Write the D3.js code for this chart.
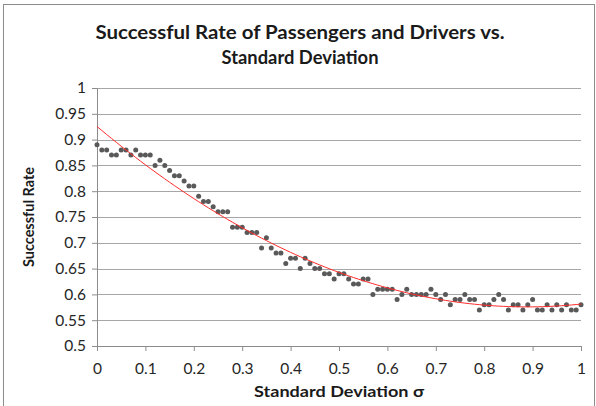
<!DOCTYPE html>
<html>
<head>
<meta charset="utf-8">
<script src="https://cdn.jsdelivr.net/npm/d3@7"></script>
<style>
  body { margin: 0; background: #fff; }
  svg { display: block; font-family: Lato, "Open Sans", sans-serif; }
</style>
</head>
<body>
<svg id="chart" width="596" height="406"></svg>
<script>
// Standard deviation steps 0, 0.01, ... 1
const sigma = d3.range(0, 101).map(i => i / 100);
// Successful rate, one per sigma step
const rate = [
  0.89, 0.88, 0.88, 0.87, 0.87, 0.88, 0.88, 0.87, 0.88, 0.87,
  0.87, 0.87, 0.85, 0.86, 0.85, 0.84, 0.83, 0.83, 0.82, 0.81,
  0.81, 0.79, 0.78, 0.78, 0.77, 0.76, 0.76, 0.76, 0.73, 0.73,
  0.73, 0.72, 0.72, 0.72, 0.69, 0.71, 0.69, 0.68, 0.68, 0.66,
  0.67, 0.67, 0.65, 0.67, 0.66, 0.65, 0.65, 0.64, 0.64, 0.63,
  0.64, 0.64, 0.63, 0.62, 0.62, 0.63, 0.63, 0.60, 0.61, 0.61,
  0.61, 0.61, 0.59, 0.60, 0.61, 0.60, 0.60, 0.60, 0.60, 0.61,
  0.60, 0.59, 0.60, 0.58, 0.59, 0.59, 0.60, 0.59, 0.59, 0.57,
  0.58, 0.58, 0.59, 0.60, 0.59, 0.57, 0.58, 0.58, 0.57, 0.58,
  0.59, 0.57, 0.57, 0.58, 0.57, 0.58, 0.57, 0.58, 0.57, 0.57,
  0.58
];
const xTicks = [0, 0.1, 0.2, 0.3, 0.4, 0.5, 0.6, 0.7, 0.8, 0.9, 1];
const yTicks = [0.5, 0.55, 0.6, 0.65, 0.7, 0.75, 0.8, 0.85, 0.9, 0.95, 1];
const titleLines = ['Successful Rate of Passengers and Drivers vs.', 'Standard Deviation'];
const trendOrder = 2;

const margin = { top: 88, right: 15, bottom: 60, left: 97 };
const svg = d3.select('#chart');
const width = 581 - margin.left;
const height = 346 - margin.top;

// outer frame
svg.append('rect')
  .attr('x', 3.5).attr('y', 4.5)
  .attr('width', 591).attr('height', 410)
  .attr('fill', 'none').attr('stroke', '#8c8c8c');

const chart = svg.append('g')
  .attr('transform', `translate(${margin.left},${margin.top})`);

const xScale = d3.scaleLinear().domain([0, 1]).range([0, width]);
const yScale = d3.scaleLinear().domain([0.5, 1]).range([height, 0]);

// gridlines
chart.selectAll('.grid')
  .data(yTicks.filter(d => d > 0.5))
  .join('line')
    .attr('class', 'grid')
    .attr('x1', 0).attr('x2', width)
    .attr('y1', d => Math.round(yScale(d)) + 0.5)
    .attr('y2', d => Math.round(yScale(d)) + 0.5)
    .attr('stroke', '#a6a6a6');

// axes
const xAxis = d3.axisBottom(xScale).tickValues(xTicks).tickSize(5).tickPadding(12)
  .tickFormat(d => d3.format('~g')(d));
const yAxis = d3.axisLeft(yScale).tickValues(yTicks).tickSize(5).tickPadding(6)
  .tickFormat(d => d3.format('~g')(d));

const xAxisG = chart.append('g')
  .attr('transform', `translate(0,${height})`)
  .call(xAxis);
const yAxisG = chart.append('g').call(yAxis);

[xAxisG, yAxisG].forEach(g => {
  g.select('.domain').attr('stroke', '#8c8c8c');
  g.selectAll('.tick line').attr('stroke', '#8c8c8c');
  g.selectAll('.tick text')
    .attr('fill', '#262626')
    .attr('font-size', '15.5px')
    .attr('font-family', 'Lato, sans-serif');
});

// polynomial least squares trendline fitted to the points
function polyFit(xs, ys, order) {
  const n = order + 1;
  const A = d3.range(n).map(() => new Array(n + 1).fill(0));
  xs.forEach((x, k) => {
    for (let i = 0; i < n; i++) {
      for (let j = 0; j < n; j++) A[i][j] += Math.pow(x, i + j);
      A[i][n] += ys[k] * Math.pow(x, i);
    }
  });
  for (let i = 0; i < n; i++) {
    let p = i;
    for (let r = i + 1; r < n; r++) if (Math.abs(A[r][i]) > Math.abs(A[p][i])) p = r;
    [A[i], A[p]] = [A[p], A[i]];
    for (let r = 0; r < n; r++) {
      if (r === i) continue;
      const f = A[r][i] / A[i][i];
      for (let c = i; c <= n; c++) A[r][c] -= f * A[i][c];
    }
  }
  return d3.range(n).map(i => A[i][n] / A[i][i]);
}
const coef = polyFit(sigma, rate, trendOrder);
const trend = x => coef.reduce((s, c, i) => s + c * Math.pow(x, i), 0);

const points = sigma.map((s, i) => ({ x: s, y: rate[i] }));

chart.selectAll('.dot')
  .data(points)
  .join('circle')
    .attr('class', 'dot')
    .attr('cx', d => xScale(d.x))
    .attr('cy', d => yScale(d.y))
    .attr('r', 2.5)
    .attr('fill', '#595959');

const line = d3.line()
  .x(d => xScale(d))
  .y(d => yScale(trend(d)));
chart.append('path')
  .datum(sigma)
  .attr('d', line)
  .attr('fill', 'none')
  .attr('stroke', '#ff2a2a')
  .attr('stroke-width', 1);

// titles
const titleWidths = [409, 157];
svg.selectAll('.title')
  .data(titleLines)
  .join('text')
    .attr('class', 'title')
    .attr('x', 300)
    .attr('y', (d, i) => 39 + i * 25)
    .attr('text-anchor', 'middle')
    .attr('font-weight', 'bold')
    .attr('font-size', '19px')
    .attr('fill', '#1a1a1a')
    .attr('textLength', (d, i) => titleWidths[i])
    .attr('lengthAdjust', 'spacingAndGlyphs')
    .text(d => d);

svg.append('text')
  .attr('x', margin.left + width / 2)
  .attr('y', 397)
  .attr('text-anchor', 'middle')
  .attr('font-weight', 'bold')
  .attr('font-size', '15px')
  .attr('fill', '#1a1a1a')
  .attr('textLength', 170)
  .attr('lengthAdjust', 'spacingAndGlyphs')
  .text('Standard Deviation σ');

svg.append('text')
  .attr('transform', `translate(34,${margin.top + height / 2}) rotate(-90)`)
  .attr('text-anchor', 'middle')
  .attr('font-weight', 'bold')
  .attr('font-size', '15px')
  .attr('fill', '#1a1a1a')
  .attr('textLength', 100)
  .attr('lengthAdjust', 'spacingAndGlyphs')
  .text('Successful Rate');
</script>
</body>
</html>
